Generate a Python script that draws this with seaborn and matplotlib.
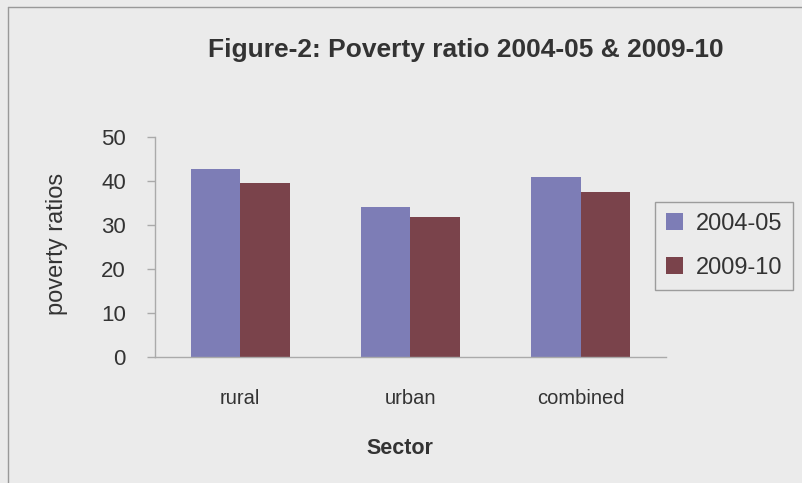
import matplotlib
matplotlib.use("Agg")
import matplotlib.pyplot as plt
import seaborn as sns
import pandas as pd
from matplotlib.lines import Line2D

sectors = ["rural", "urban", "combined"]
years = ["2004-05", "2009-10"]
values_2004 = [42.6, 34.0, 40.9]
values_2009 = [39.4, 31.7, 37.5]

df = pd.DataFrame({
    "Sector": sectors * 2,
    "Year": [years[0]] * 3 + [years[1]] * 3,
    "ratio": values_2004 + values_2009,
})

sns.set_theme(style="white")
plt.rcParams["font.family"] = ["Liberation Sans", "DejaVu Sans"]

bg = "#ebebeb"
W, H = 803, 483
fig = plt.figure(figsize=(8.03, 4.83), dpi=100, facecolor=bg)
ax_left, ax_right, ax_bottom, ax_top = 155, 666, 356.7, 136.7
ax = fig.add_axes([ax_left / W, 1 - ax_bottom / H, (ax_right - ax_left) / W, (ax_bottom - ax_top) / H])
ax.set_facecolor(bg)

palette = {"2004-05": "#7d7db6", "2009-10": "#7a434b"}
sns.barplot(data=df, x="Sector", y="ratio", hue="Year", palette=palette,
            width=0.58, saturation=1, ax=ax, legend=True, gap=0)
for p in ax.patches:
    p.set_edgecolor("none")

ax.set_ylim(0, 50)
ax.set_xlim(-0.5, 2.5)
ax.set_yticks([0, 10, 20, 30, 40, 50])
ax.tick_params(axis="y", labelsize=16, colors="#333333", length=6, width=1,
               color="#aaaaaa", direction="out", pad=15, left=True)
ax.set_xticks([0, 1, 2])
ax.set_xticklabels(sectors)
ax.tick_params(axis="x", labelsize=14.5, colors="#333333", length=0, pad=23)
ax.set_xticks([-0.5, 0.5, 1.5, 2.5], minor=True)
ax.tick_params(axis="x", which="minor", length=6, width=1, color="#aaaaaa", direction="out")

for s in ["top", "right"]:
    ax.spines[s].set_visible(False)
for s in ["left", "bottom"]:
    ax.spines[s].set_color("#aaaaaa")
    ax.spines[s].set_linewidth(1)

ax.set_ylabel("poverty ratios", fontsize=17, color="#333333")
ax.yaxis.label.set_va("center")
ax.yaxis.set_label_coords((57 - ax_left) / (ax_right - ax_left), (ax_bottom - 243.5) / (ax_bottom - ax_top))
ax.set_xlabel("Sector", fontsize=15.5, fontweight="bold", color="#333333")
ax.xaxis.label.set_va("center")
ax.xaxis.set_label_coords((400 - ax_left) / (ax_right - ax_left), (ax_bottom - 448) / (ax_bottom - ax_top))

leg = ax.legend(loc="upper left", bbox_to_anchor=(655 / W, 1 - 202 / H),
                bbox_transform=fig.transFigure, frameon=True, fontsize=17,
                handlelength=0.75, handleheight=0.75, handletextpad=0.55,
                borderpad=0.45, labelspacing=0.95, fancybox=False, borderaxespad=0)
leg.get_frame().set_facecolor(bg)
leg.get_frame().set_edgecolor("#888888")
leg.get_frame().set_linewidth(1)
for t in leg.get_texts():
    t.set_color("#333333")

fig.text(466 / W, 1 - 50 / H, "Figure-2: Poverty ratio 2004-05 & 2009-10",
         ha="center", va="center", fontsize=19, fontweight="bold", color="#333333")

fig.add_artist(Line2D([8 / W, 1], [1 - 7 / H, 1 - 7 / H], transform=fig.transFigure,
                      color="#999999", lw=1))
fig.add_artist(Line2D([8 / W, 8 / W], [0, 1 - 7 / H], transform=fig.transFigure,
                      color="#999999", lw=1))

fig.savefig("out.png", dpi=100, facecolor=bg)
